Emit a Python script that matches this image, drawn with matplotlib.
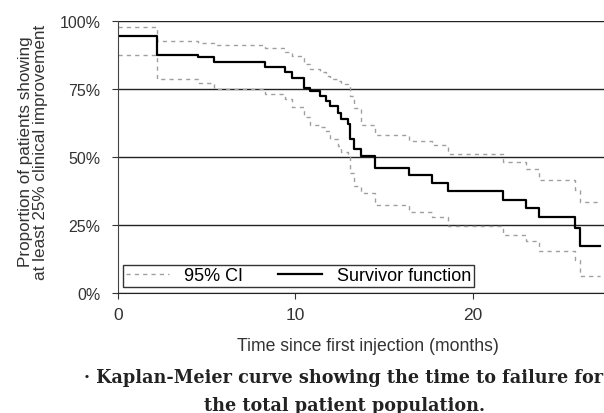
import matplotlib
matplotlib.use("Agg")
import matplotlib.pyplot as plt
from matplotlib.ticker import PercentFormatter

# step times (months) and values
times = [0, 2.2, 4.5, 5.4, 8.3, 9.4, 9.8, 10.5, 10.8, 11.4, 11.7, 11.95, 12.4, 12.6,
         12.95, 13.1, 13.3, 13.7, 14.5, 16.4, 17.7, 18.6, 21.7, 23.0, 23.75, 25.75, 26.05]
survivor = [0.946, 0.876, 0.866, 0.848, 0.831, 0.812, 0.789, 0.752, 0.741, 0.725, 0.706,
            0.688, 0.661, 0.640, 0.620, 0.565, 0.528, 0.503, 0.459, 0.432, 0.405, 0.374,
            0.343, 0.311, 0.279, 0.239, 0.174]
ci_upper = [0.977, 0.928, 0.920, 0.910, 0.900, 0.885, 0.870, 0.843, 0.825, 0.811, 0.798,
            0.788, 0.779, 0.770, 0.762, 0.725, 0.680, 0.617, 0.580, 0.559, 0.545, 0.510,
            0.481, 0.455, 0.417, 0.380, 0.335]
ci_lower = [0.876, 0.787, 0.772, 0.751, 0.731, 0.713, 0.682, 0.646, 0.617, 0.610, 0.596,
            0.565, 0.540, 0.520, 0.503, 0.440, 0.393, 0.368, 0.325, 0.297, 0.280, 0.245,
            0.214, 0.190, 0.153, 0.120, 0.063]
last_time = 27.2

x_ticks = [0, 10, 20]
y_ticks = [0, 0.25, 0.5, 0.75, 1.0]

plt.rcParams['font.family'] = ['Liberation Sans', 'DejaVu Sans']

fig = plt.figure(figsize=(6.04, 4.14), dpi=100)
ax = fig.add_axes([118 / 604, 1 - 294 / 414, (604 - 118) / 604, (294 - 22) / 414])

t = times + [last_time]
ax.step(t, ci_upper + [ci_upper[-1]], where='post', color='#a0a0a0', lw=1.0,
        dashes=(3, 3), label='95% CI')
ax.step(t, ci_lower + [ci_lower[-1]], where='post', color='#a0a0a0', lw=1.0,
        dashes=(3, 3))
ax.step(t, survivor + [survivor[-1]], where='post', color='black', lw=1.6,
        label='Survivor function')

ax.set_xlim(0, 27.4)
ax.set_ylim(0, 1)
ax.set_xticks(x_ticks)
ax.set_yticks(y_ticks)
ax.yaxis.set_major_formatter(PercentFormatter(1.0, decimals=0))
ax.grid(axis='y', color='#222222', lw=1.0)
ax.set_axisbelow(True)
for s in ['top', 'right']:
    ax.spines[s].set_visible(False)
ax.spines['left'].set_color('#444444')
ax.spines['bottom'].set_color('#222222')
ax.tick_params(axis='y', length=4.5, pad=8, labelsize=11.5, colors='#333333')
ax.tick_params(axis='x', length=4, pad=6, labelsize=12.5, colors='#333333')

ax.set_xlabel('Time since first injection (months)', fontsize=12.7, color='#333333')
ax.xaxis.set_label_coords((368 - 118) / 486, (294 - 338) / 272)

fig.text(33 / 604, 1 - 152 / 414,
         'Proportion of patients showing\nat least 25% clinical improvement',
         rotation=90, ha='center', va='center', multialignment='center',
         fontsize=12.3, color='#333333', linespacing=1.0)

leg = ax.legend(loc='lower left',
                bbox_to_anchor=(5 / 486, 6 / 272, (474 - 123) / 486, 25 / 272),
                mode='expand', ncol=2,
                fontsize=13, frameon=True, fancybox=False, framealpha=1,
                edgecolor='#333333', borderpad=0.15, handlelength=2.4,
                handletextpad=0.85, columnspacing=1.1, borderaxespad=0)
leg.get_frame().set_linewidth(1.0)

fig.text(344 / 604, 1 - 392 / 414,
         '· Kaplan-Meier curve showing the time to failure for\nthe total patient population.',
         ha='center', va='center', multialignment='center', fontsize=12.7,
         fontweight='bold', family='DejaVu Serif', color='#222222', linespacing=1.68)

fig.savefig('out.png', dpi=100)
